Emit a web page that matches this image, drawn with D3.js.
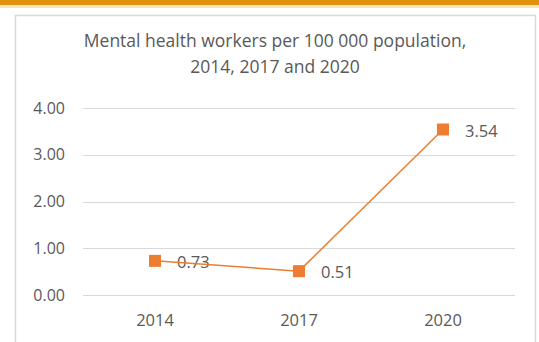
<!DOCTYPE html>
<html>
<head>
<meta charset="utf-8">
<script src="https://cdn.jsdelivr.net/npm/d3@7"></script>
<style>
  body { margin: 0; background: #fff; }
  text { font-family: "Open Sans", "Liberation Sans", sans-serif; fill: #595959; }
</style>
</head>
<body>
<svg id="chart" width="539" height="342"></svg>
<script>
let years = ["2014", "2017", "2020"];
let workers = [0.73, 0.51, 3.54];
let yTicks = [0, 1, 2, 3, 4];
let titleLines = ["Mental health workers per 100 000 population,", "2014, 2017 and 2020"];

let ORANGE = "#ED7D31";

function draw() {
    const svg = d3.select("#chart");

    // page decoration: top band and chart frame
    svg.append("rect").attr("x", 0).attr("y", 0).attr("width", 539).attr("height", 5).attr("fill", "#E0900F");
    svg.append("rect").attr("x", 0).attr("y", 5).attr("width", 539).attr("height", 3).attr("fill", "#F8E3BD");
    svg.append("rect").attr("x", 15.5).attr("y", 15.5).attr("width", 520).attr("height", 340)
        .attr("fill", "#fff").attr("stroke", "#D9D9D9").attr("stroke-width", 1.5);

    const left = 83, right = 515, top = 108, bottom = 295;

    const x = d3.scaleBand().domain(years).range([left, right]);
    const y = d3.scaleLinear().domain([0, 4]).range([bottom, top]);

    // title
    svg.append("text").attr("x", 275).attr("y", 0)
        .attr("text-anchor", "middle").style("font-size", "17.5px")
        .selectAll("tspan").data(titleLines).enter().append("tspan")
        .attr("x", 275).attr("y", (d, i) => 47 + i * 26).text(d => d);

    // gridlines
    svg.append("g").selectAll("line").data(yTicks).enter().append("line")
        .attr("x1", left).attr("x2", right)
        .attr("y1", d => Math.round(y(d)) + 0.5).attr("y2", d => Math.round(y(d)) + 0.5)
        .attr("stroke", "#D9D9D9").attr("stroke-width", 1);

    // y axis labels
    const yAxis = d3.axisLeft(y).tickValues(yTicks).tickFormat(d3.format(".2f")).tickSize(0).tickPadding(18);
    const gy = svg.append("g").attr("transform", "translate(" + left + ",0)").call(yAxis);
    gy.select(".domain").remove();
    gy.selectAll("text").style("font-size", "16px").attr("fill", "#595959");

    // x axis labels
    const xAxis = d3.axisBottom(x).tickSize(0).tickPadding(19);
    const gx = svg.append("g").attr("transform", "translate(0," + bottom + ")").call(xAxis);
    gx.select(".domain").remove();
    gx.selectAll("text").style("font-size", "16.5px").attr("fill", "#595959");

    const cx = d => x(d) + x.bandwidth() / 2;
    const pts = years.map((d, i) => ({year: d, v: workers[i]}));

    // data labels (drawn under the line, like the original)
    svg.append("g").selectAll("text").data(pts).enter().append("text")
        .attr("x", d => cx(d.year) + 22).attr("y", d => y(d.v) + 7)
        .style("font-size", "16.5px")
        .text(d => d3.format(".2f")(d.v));

    const line = d3.line().x(d => cx(d.year)).y(d => y(d.v));
    svg.append("path").datum(pts).attr("d", line)
        .attr("fill", "none").attr("stroke", ORANGE).attr("stroke-width", 1.5);

    const size = 12;
    svg.append("g").selectAll("rect").data(pts).enter().append("rect")
        .attr("x", d => cx(d.year) - size / 2).attr("y", d => y(d.v) - size / 2)
        .attr("width", size).attr("height", size).attr("fill", ORANGE);
}

draw();
</script>
</body>
</html>
